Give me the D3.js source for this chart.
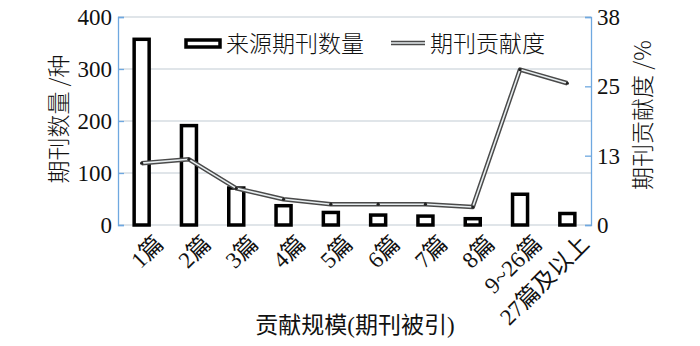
<!DOCTYPE html>
<html><head><meta charset="utf-8">
<script src="https://cdn.jsdelivr.net/npm/d3@7"></script>
<style>
body{margin:0;background:#fff;}
svg{display:block;}
text{fill:#111;}
.num{font-family:"Liberation Serif","Times New Roman","DejaVu Serif",serif;}
.cjk{font-family:"Noto Sans CJK SC","Noto Sans",sans-serif;font-weight:300;}
.mix{font-family:"Liberation Serif","Times New Roman","Noto Sans CJK SC",serif;}
</style></head>
<body><svg id="c" width="700" height="346"></svg>
<script>
const categories = ["1篇","2篇","3篇","4篇","5篇","6篇","7篇","8篇","9~26篇","27篇及以上"];
const journalCounts = [360, 194, 74, 40, 27, 22, 20, 15, 62, 25];
const contribution = [11.3, 12.0, 6.7, 4.7, 3.8, 3.8, 3.8, 3.3, 28.4, 25.9];
const leftTicks = [0, 100, 200, 300, 400];
const rightTicks = [0, 38/3, 76/3, 38];
const legendLabels = ["来源期刊数量", "期刊贡献度"];
const xTitle = "贡献规模(期刊被引)";
const yLeftTitle = "期刊数量 /种";
const yRightTitle = "期刊贡献度 /%";

const svg = d3.select("#c");
const m = {l:118, r:591, t:17, b:225};
const x = d3.scaleBand().domain(categories).range([m.l, m.r]);
const yL = d3.scaleLinear().domain([0,400]).range([m.b, m.t]);
const yR = d3.scaleLinear().domain([0,38]).range([m.b, m.t]);
const axisBlue = "#6fa8e0";

// gridlines
svg.append("g").selectAll("line").data(leftTicks).join("line")
  .attr("x1", m.l).attr("x2", m.r)
  .attr("y1", d=>yL(d)).attr("y2", d=>yL(d))
  .attr("stroke", "#d6dde2").attr("stroke-width", 1.3);

// left axis
const gl = svg.append("g").attr("transform", `translate(${m.l},0)`)
  .call(d3.axisRight(yL).tickValues(leftTicks).tickSize(6).tickFormat(""));
gl.select(".domain").attr("stroke", axisBlue).attr("stroke-width", 1.3);
gl.selectAll(".tick line").attr("stroke", axisBlue).attr("stroke-width", 1.3);
svg.append("g").selectAll("text").data(leftTicks).join("text")
  .attr("class","num")
  .attr("x", m.l - 6).attr("y", d=>yL(d)).attr("dy", "0.35em")
  .attr("text-anchor", "end").attr("font-size", 23)
  .text(d=>d);

// right axis
const gr = svg.append("g").attr("transform", `translate(${m.r},0)`)
  .call(d3.axisLeft(yR).tickValues(rightTicks).tickSize(6).tickFormat(""));
gr.select(".domain").attr("stroke", axisBlue).attr("stroke-width", 1.3);
gr.selectAll(".tick line").attr("stroke", axisBlue).attr("stroke-width", 1.3);
svg.append("g").selectAll("text").data(rightTicks).join("text")
  .attr("class","num")
  .attr("x", m.r + 6).attr("y", d=>yR(d)).attr("dy", "0.35em")
  .attr("text-anchor", "start").attr("font-size", 23)
  .text(d=>Math.round(d));

// bars
const bw = 15;
svg.append("g").selectAll("rect").data(journalCounts).join("rect")
  .attr("x", (d,i)=>x(categories[i]) + x.bandwidth()/2 - bw/2)
  .attr("y", d=>yL(d) + 1.5)
  .attr("width", bw)
  .attr("height", d=>m.b - yL(d) - 1.5)
  .attr("fill", "#fff").attr("stroke", "#000").attr("stroke-width", 3.5);

// line
const line = d3.line().x((d,i)=>x(categories[i]) + x.bandwidth()/2).y(d=>yR(d));
svg.append("path").datum(contribution).attr("d", line)
  .attr("fill","none").attr("stroke","#4a4a4a").attr("stroke-width",4.5).attr("stroke-linejoin","round");
svg.append("path").datum(contribution).attr("d", line)
  .attr("fill","none").attr("stroke","#e8eef0").attr("stroke-width",1.6).attr("stroke-linejoin","round");
svg.append("g").selectAll("circle").data(contribution).join("circle")
  .attr("cx",(d,i)=>x(categories[i]) + x.bandwidth()/2).attr("cy", d=>yR(d)).attr("r",1.6)
  .attr("fill","#222");

// x labels
svg.append("g").selectAll("text").data(categories).join("text")
  .attr("class","mix")
  .attr("transform", d=>`translate(${x(d)+x.bandwidth()/2+11},${m.b+8}) rotate(-45)`)
  .attr("text-anchor","end").attr("dy","0.75em")
  .attr("font-size", 23)
  .text(d=>d);

// titles
svg.append("text").attr("class","mix").attr("x", 355).attr("y", 333).attr("text-anchor","middle")
  .attr("font-size", 23).text(xTitle);
svg.append("text").attr("class","cjk").attr("transform","translate(67,119) rotate(-90)").attr("text-anchor","middle")
  .attr("font-size", 23).text(yLeftTitle);
svg.append("text").attr("class","cjk").attr("transform","translate(651,115) rotate(-90)").attr("text-anchor","middle")
  .attr("font-size", 23).text(yRightTitle);

// legend
const lg = svg.append("g");
lg.append("rect").attr("x",186).attr("y",40).attr("width",34).attr("height",7)
  .attr("fill","#fff").attr("stroke","#000").attr("stroke-width",3.5);
lg.append("text").attr("class","cjk").attr("x",226).attr("y",44).attr("dy","0.35em")
  .attr("font-size", 23).text(legendLabels[0]);
lg.append("line").attr("x1",391).attr("x2",425).attr("y1",43).attr("y2",43)
  .attr("stroke","#4a4a4a").attr("stroke-width",4.5);
lg.append("line").attr("x1",391).attr("x2",425).attr("y1",43).attr("y2",43)
  .attr("stroke","#e8eef0").attr("stroke-width",1.6);
lg.append("text").attr("class","cjk").attr("x",430).attr("y",44).attr("dy","0.35em")
  .attr("font-size", 23).text(legendLabels[1]);
</script></body></html>
